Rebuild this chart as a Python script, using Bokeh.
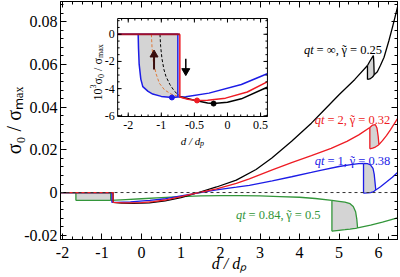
import numpy as np
from bokeh.plotting import figure
from bokeh.models import Range1d, LinearAxis, FixedTicker, Span, Label
from bokeh.core.properties import value
from bokeh.embed import file_html
from bokeh.resources import INLINE

FONT = "Liberation Serif"
FILL = "#d4d4d4"
C_BK, C_RD, C_BL, C_GR = "#000000", "#ee1c24", "#1c1ce6", "#33963a"

# ---------------- axes values ----------------
x_lim = (-2.05, 6.48)
y_lim = (-0.022, 0.0895)
x_ticks = [-2, -1, 0, 1, 2, 3, 4, 5, 6]
x_tick_labels = ["-2", "-1", "0", "1", "2", "3", "4", "5", "6"]
y_ticks = [-0.02, 0.0, 0.02, 0.04, 0.06, 0.08]
y_tick_labels = ["-0.02", "0", "0.02", "0.04", "0.06", "0.08"]
x_title = "d / dₚ"
y_title = "σ₀ / σₘₐₓ"

# ---------------- main curves (d/dp, sigma0/sigmamax) ----------------
# qt = inf, gamma = 0.25 (black)
bk_x = [-2.05, -0.72, -0.72, -0.5, -0.2, 0.2, 0.6, 1.0, 1.3, 1.9, 2.4, 2.9, 3.3, 3.8, 4.3, 4.6, 5.0, 5.4, 5.72]
bk_y = [0.0, 0.0, -0.0046, -0.0049, -0.0051, -0.0048, -0.0039, -0.0024, -0.0008, 0.0026, 0.0058, 0.0108, 0.0162, 0.0240, 0.0325, 0.0382, 0.0458, 0.0530, 0.0595]
bk_loop_x = [5.72, 5.78, 5.84, 5.87, 5.88, 5.89]
bk_loop_hi = [0.0595, 0.0615, 0.0633, 0.0642, 0.0612, 0.0552]
bk_loop_lo = [0.0530, 0.0532, 0.0540, 0.0546, 0.0549, 0.0552]
bk_tail_x = [5.89, 5.97, 6.05, 6.14, 6.26, 6.36, 6.48]
bk_tail_y = [0.0552, 0.0566, 0.0596, 0.0634, 0.0710, 0.0780, 0.0868]

# qt = 2, gamma = 0.32 (red)
rd_x = [-2.05, -0.72, -0.72, -0.46, 0.0, 0.3, 0.6, 1.0, 1.3, 1.9, 2.4, 2.73, 3.31, 3.8, 4.3, 4.8, 5.2, 5.5, 5.78]
rd_y = [0.0, 0.0, -0.0046, -0.00487, -0.0047, -0.0043, -0.0035, -0.0019, -0.0006, 0.0017, 0.0043, 0.0064, 0.0106, 0.0140, 0.0173, 0.0207, 0.0240, 0.0270, 0.0305]
rd_loop_x = [5.78, 5.85, 5.92, 5.96, 5.99, 6.01]
rd_loop_hi = [0.0305, 0.0316, 0.0318, 0.0302, 0.0265, 0.0225]
rd_loop_lo = [0.0205, 0.0208, 0.0213, 0.0218, 0.0222, 0.0225]
rd_tail_x = [6.01, 6.1, 6.2, 6.3, 6.4, 6.48]
rd_tail_y = [0.0225, 0.0243, 0.0267, 0.0294, 0.0323, 0.0347]

# qt = 1, gamma = 0.38 (blue)
bl_x = [-2.05, -0.75, -0.75, -0.63, -0.28, 0.21, 0.61, 1.0, 1.3, 1.9, 2.4, 2.73, 3.31, 3.8, 4.3, 4.56, 5.0, 5.3, 5.5, 5.62]
bl_y = [0.0, 0.0, -0.0046, -0.0046, -0.00433, -0.0037, -0.0029, -0.0016, -0.0006, 0.0012, 0.0025, 0.0034, 0.0055, 0.0074, 0.0094, 0.0105, 0.0122, 0.0131, 0.0135, 0.0136]
bl_loop_x = [5.62, 5.72, 5.8, 5.86, 5.89, 5.91, 5.93]
bl_loop_hi = [0.0136, 0.0135, 0.0129, 0.0113, 0.0086, 0.0050, 0.0012]
bl_loop_lo = [-0.0003, -0.0002, 0.0, 0.0003, 0.0006, 0.0009, 0.0012]
bl_tail_x = [5.93, 6.05, 6.2, 6.35, 6.48]
bl_tail_y = [0.0012, 0.0027, 0.0049, 0.0072, 0.0094]

# qt = 0.84, gamma = 0.5 (green)
gr_x = [-2.05, -0.78, -0.78, -0.4, 0.0, 0.5, 1.0, 1.5, 2.0, 2.5, 3.0, 3.5, 4.0, 4.4, 4.82]
gr_y = [0.0, 0.0, -0.0037, -0.0033, -0.0029, -0.0024, -0.0019, -0.0016, -0.0014, -0.0014, -0.0016, -0.0019, -0.0022, -0.0028, -0.0037]
gr_box_x = [-1.66, -0.78]
gr_box_hi = [0.0, 0.0]
gr_box_lo = [-0.0037, -0.0037]
gr_loop_x = [4.82, 5.0, 5.15, 5.28, 5.36, 5.42, 5.45, 5.47]
gr_loop_hi = [-0.0037, -0.0041, -0.0045, -0.0052, -0.0065, -0.0090, -0.0125, -0.0166]
gr_loop_lo = [-0.0181, -0.0177, -0.0174, -0.0171, -0.0169, -0.0168, -0.0167, -0.0166]
gr_tail_x = [5.47, 5.8, 6.1, 6.48]
gr_tail_y = [-0.0166, -0.0153, -0.0139, -0.0119]

# ---------------- inset (d/dp, 10^3 sigma0/sigmamax) ----------------
in_x_lim = (-1.66, 0.604)
in_y_lim = (-6.05, 1.16)
in_x_ticks = [-1.5, -1.0, -0.5, 0.0, 0.5]
in_x_tick_labels = ["-2", "-1", "-0.5", "0", "0.5"]
in_y_ticks = [0, -2, -4, -6]
in_y_tick_labels = ["0", "-2", "-4", "-6"]

in_top_x = [-1.66, -0.72]
in_top_y = [0.0, 0.0]
in_bl_top_x = [-1.66, -0.75, -0.75]
in_bl_top_y = [0.0, 0.0, -4.6]
in_bl_x = [-1.35, -1.345, -1.335, -1.31, -1.28, -1.2, -1.13, -1.0, -0.84, -0.75, -0.63, -0.28, 0.21, 0.6]
in_bl_y = [0.0, -1.0, -2.2, -3.3, -3.85, -4.2, -4.4, -4.57, -4.65, -4.62, -4.6, -4.33, -3.7, -2.9]
in_rd_x = [-0.72, -0.72, -0.6, -0.46, -0.3, -0.03, 0.3, 0.6]
in_rd_y = [0.0, -4.62, -4.78, -4.87, -4.85, -4.7, -4.25, -3.5]
in_bk_x = [-0.72, -0.5, -0.3, -0.21, 0.0, 0.21, 0.6]
in_bk_y = [-4.6, -4.85, -5.05, -5.1, -5.0, -4.75, -3.9]
in_rd_dash_x = [-1.15, -1.14, -1.12, -1.08, -1.03, -0.95, -0.85, -0.72]
in_rd_dash_y = [0.0, -1.0, -2.0, -2.9, -3.6, -4.1, -4.4, -4.62]
in_bk_dash_x = [-1.02, -1.01, -0.99, -0.96, -0.93, -0.87, -0.8, -0.72]
in_bk_dash_y = [0.0, -0.9, -1.8, -2.6, -3.1, -3.7, -4.2, -4.55]
in_dot_x = [-0.84, -0.46, -0.21]
in_dot_y = [-4.65, -4.87, -5.1]
in_dot_c = [C_BL, C_RD, C_BK]
in_up_arrow = (-1.11, -2.6, -1.25)     # x, tail y, tip y
in_down_arrow = (-0.63, -1.8, -2.95)

# ---------------- layout geometry ----------------
W, H = 400, 277
FL, FR, FT, FB = 55, 397, 1, 239


def px2x(px):
    return x_lim[0] + (px - FL) / (FR - FL) * (x_lim[1] - x_lim[0])


def py2y(py):
    return y_lim[1] - (py - FT) / (FB - FT) * (y_lim[1] - y_lim[0])


p = figure(width=W, height=H, x_range=Range1d(*x_lim), y_range=Range1d(*y_lim),
           output_backend="svg", toolbar_location=None,
           min_border_left=FL, min_border_right=W - FR, min_border_top=FT, min_border_bottom=H - FB)
p.xgrid.visible = False
p.ygrid.visible = False
p.outline_line_color = "black"
p.background_fill_color = "white"
p.border_fill_color = "white"

xt = FixedTicker(ticks=x_ticks, minor_ticks=list(np.round(np.arange(-2, 6.51, 0.25), 3)))
yt = FixedTicker(ticks=y_ticks, minor_ticks=list(np.round(np.arange(-0.02, 0.0895, 0.004), 4)))


def style_axis(ax, ticker, labels, show, standoff=3):
    ax.ticker = ticker
    ax.axis_line_color = "black"
    ax.major_tick_in = 6
    ax.major_tick_out = 0
    ax.minor_tick_in = 3
    ax.minor_tick_out = 0
    ax.major_tick_line_color = "black"
    ax.minor_tick_line_color = "black"
    ax.major_label_text_font = FONT
    ax.major_label_text_color = "black"
    if show:
        ax.major_label_text_font_size = "16px"
        ax.major_label_standoff = standoff
        ax.major_label_overrides = {t: s for t, s in zip(ticker.ticks, labels)}
    else:
        ax.major_label_text_font_size = "0px"
        ax.major_label_standoff = 0
        ax.major_label_overrides = {t: "" for t in ticker.ticks}


x_bottom = p.below[0]
y_left = p.left[0]
style_axis(x_bottom, xt, x_tick_labels, True, standoff=7)
style_axis(y_left, yt, y_tick_labels, True, standoff=3)

x_bottom.axis_label = x_title
x_bottom.axis_label_text_font = FONT
x_bottom.axis_label_text_font_size = "16px"
x_bottom.axis_label_text_font_style = "italic"
x_bottom.axis_label_text_color = "black"
x_bottom.axis_label_standoff = -6
y_left.axis_label = y_title
y_left.axis_label_text_font = FONT
y_left.axis_label_text_font_size = "20px"
y_left.axis_label_text_font_style = "normal"
y_left.axis_label_text_color = "black"
y_left.axis_label_standoff = -4

top_ax = LinearAxis()
right_ax = LinearAxis()
style_axis(top_ax, xt, x_tick_labels, False)
style_axis(right_ax, yt, y_tick_labels, False)
p.add_layout(top_ax, "above")
p.add_layout(right_ax, "right")

p.add_layout(Span(location=0, dimension="width", line_color="#333333", line_width=1, line_dash="3 3"))

LW = 1.3


def curve(x, y, lx, hi, lo, tx, ty, color):
    p.line(x, y, line_color=color, line_width=LW)
    p.line(lx, hi, line_color=color, line_width=LW)
    p.line(lx, lo, line_color=color, line_width=LW)
    p.line([lx[0], lx[0]], [lo[0], hi[0]], line_color=color, line_width=LW)
    p.line(tx, ty, line_color=color, line_width=LW)


# grey hysteresis areas
for lx, hi, lo in [(gr_box_x, gr_box_hi, gr_box_lo), (gr_loop_x, gr_loop_hi, gr_loop_lo),
                   (bl_loop_x, bl_loop_hi, bl_loop_lo), (rd_loop_x, rd_loop_hi, rd_loop_lo),
                   (bk_loop_x, bk_loop_hi, bk_loop_lo)]:
    p.varea(x=lx, y1=lo, y2=hi, fill_color=FILL)

p.line(gr_box_x, gr_box_lo, line_color=C_GR, line_width=LW)
p.line([gr_box_x[0], gr_box_x[0]], [gr_box_lo[0], gr_box_hi[0]], line_color=C_GR, line_width=LW)
curve(gr_x, gr_y, gr_loop_x, gr_loop_hi, gr_loop_lo, gr_tail_x, gr_tail_y, C_GR)
curve(bk_x, bk_y, bk_loop_x, bk_loop_hi, bk_loop_lo, bk_tail_x, bk_tail_y, C_BK)
curve(bl_x, bl_y, bl_loop_x, bl_loop_hi, bl_loop_lo, bl_tail_x, bl_tail_y, C_BL)
curve(rd_x, rd_y, rd_loop_x, rd_loop_hi, rd_loop_lo, rd_tail_x, rd_tail_y, C_RD)

# ---------------- inset ----------------
IL, IR, IT, IB = 113, 265, 18, 116
in_xr = Range1d(*in_x_lim)
in_yr = Range1d(*in_y_lim)
ins = p.subplot(x_source=in_xr, y_source=in_yr,
                x_target=Range1d(px2x(IL), px2x(IR)),
                y_target=Range1d(py2y(IB), py2y(IT)))
ipx = (IR - IL) / (in_x_lim[1] - in_x_lim[0])
ipy = (IB - IT) / (in_y_lim[1] - in_y_lim[0])

ins.quad(left=[in_x_lim[0]], right=[in_x_lim[1]], bottom=[in_y_lim[0]], top=[in_y_lim[1]],
         fill_color="white", line_color="black", line_width=1)

fx = [x for x in in_bl_x if x <= -0.75]
fy = [y for x, y in zip(in_bl_x, in_bl_y) if x <= -0.75]
ins.varea(x=fx, y1=fy, y2=[0.0] * len(fx), fill_color=FILL)

ins.line(in_bk_dash_x, in_bk_dash_y, line_color=C_BK, line_width=1, line_dash="3 2")
ins.line(in_rd_dash_x, in_rd_dash_y, line_color="#e07a3a", line_width=1, line_dash="3 2")
ins.line(in_bl_x, in_bl_y, line_color=C_BL, line_width=1.5)
ins.line(in_bl_top_x, in_bl_top_y, line_color=C_BL, line_width=1.5)
ins.line(in_bk_x, in_bk_y, line_color=C_BK, line_width=1.5)
ins.line(in_rd_x, in_rd_y, line_color=C_RD, line_width=1.5)
ins.line(in_top_x, in_top_y, line_color="#a0102a", line_width=1.8)
ins.scatter(in_dot_x, in_dot_y, size=5, marker="circle", fill_color=in_dot_c, line_color=in_dot_c)

ax_, at_, ah_ = in_up_arrow
ins.segment(x0=[ax_], y0=[at_], x1=[ax_], y1=[ah_ - 0.3], line_color="#3a0d0d", line_width=2)
ins.scatter([ax_], [ah_ - 0.25], marker="triangle", size=8, fill_color="#3a0d0d", line_color="#3a0d0d")
bx_, bt_, bh_ = in_down_arrow
ins.segment(x0=[bx_], y0=[bt_], x1=[bx_], y1=[bh_ + 0.3], line_color="black", line_width=1.5)
ins.scatter([bx_], [bh_ + 0.25], marker="inverted_triangle", size=8, fill_color="black", line_color="black")

maj_y, min_y = 4 / ipy, 2 / ipy
maj_x, min_x = 4 / ipx, 2 / ipx
in_x_minor = list(np.round(np.arange(-1.6, 0.601, 0.1), 2))
in_y_minor = list(np.arange(-6.0, 1.01, 0.5))
for ticks, lx, ly in [(in_x_ticks, maj_x, maj_y), (in_x_minor, min_x, min_y)]:
    n = len(ticks)
    ins.segment(x0=ticks, y0=[in_y_lim[0]] * n, x1=ticks, y1=[in_y_lim[0] + ly] * n, line_color="black", line_width=1)
    ins.segment(x0=ticks, y0=[in_y_lim[1]] * n, x1=ticks, y1=[in_y_lim[1] - ly] * n, line_color="black", line_width=1)
for ticks, lx, ly in [(in_y_ticks, maj_x, maj_y), (in_y_minor, min_x, min_y)]:
    n = len(ticks)
    ins.segment(x0=[in_x_lim[0]] * n, y0=ticks, x1=[in_x_lim[0] + lx] * n, y1=ticks, line_color="black", line_width=1)
    ins.segment(x0=[in_x_lim[1]] * n, y0=ticks, x1=[in_x_lim[1] - lx] * n, y1=ticks, line_color="black", line_width=1)

ins.text(x=in_x_ticks, y=[in_y_lim[0] - 4 / ipy] * len(in_x_ticks), text=in_x_tick_labels,
         text_font=value(FONT), text_font_size="12px", text_align="center", text_baseline="top", text_color="black")
ins.text(x=[in_x_lim[0] - 3 / ipx] * len(in_y_ticks), y=in_y_ticks, text=in_y_tick_labels,
         text_font=value(FONT), text_font_size="12px", text_align="right", text_baseline="middle", text_color="black")

# ---------------- composite labels (inside the frame) ----------------
CW = {"0": .5, "1": .5, "2": .5, "3": .5, "4": .5, "5": .5, "6": .5, "7": .5, "8": .5, "9": .5,
      ".": .25, ",": .25, " ": .25, "/": .278, "=": .564, "σ": .55, "γ": .44, "m": .778, "a": .444,
      "x": .5, "d": .5, "p": .5, "q": .5, "t": .278, "∞": .713, "-": .333, "˜": .333}


def text_w(s, size):
    return sum(CW.get(c, 0.5) for c in s) * size


def rich(pieces, px, py, rotated=False, color="black"):
    pos = 0.0
    for piece in pieces:
        txt, size, shift, style = piece[:4]
        dx = piece[4] if len(piece) > 4 else 0.0
        adv = piece[5] if len(piece) > 5 else None
        core = txt.lstrip(" ")
        lead = text_w(txt[:len(txt) - len(core)], size)
        q = pos + lead + dx
        if rotated:
            sx, sy, ang = px + shift, py - q, np.pi / 2
        else:
            sx, sy, ang = px + q, py + shift, 0.0
        p.add_layout(Label(x=px2x(sx), y=py2y(sy), text=core.rstrip(" "), angle=ang, text_font=FONT,
                           text_font_size=f"{size}px", text_font_style=style, text_color=color,
                           text_baseline="alphabetic", text_align="left"))
        pos += text_w(txt, size) if adv is None else adv


# inset titles
rich([("10", 12, 0, "normal"), ("3", 8, -5, "normal"), ("σ", 12, 0, "normal"), ("0", 8, 3, "normal"),
      (" / σ", 12, 0, "normal"), ("max", 8, 3, "normal")], 93, 100, rotated=True)
rich([("d / d", 11, 0, "italic"), ("p", 8, 3, "italic")], 177, 140)

# curve labels
FS = 12.5


def curve_label(qt, gam, px, py, color):
    rich([("qt", FS, 0, "italic"), (f" = {qt}, ", FS, 0, "normal"), ("˜", FS, 0, "normal", 0.8, 0.0),
          ("γ", FS, 0, "normal"), (f" = {gam}", FS, 0, "normal")], px, py, color=color)


curve_label("∞", "0.25", 302, 49, C_BK)
curve_label("2", "0.32", 313, 119, C_RD)
curve_label("1", "0.38", 313, 160, C_BL)
curve_label("0.84", "0.5", 233, 214, C_GR)

open("out.html", "w").write(file_html(p, INLINE))
